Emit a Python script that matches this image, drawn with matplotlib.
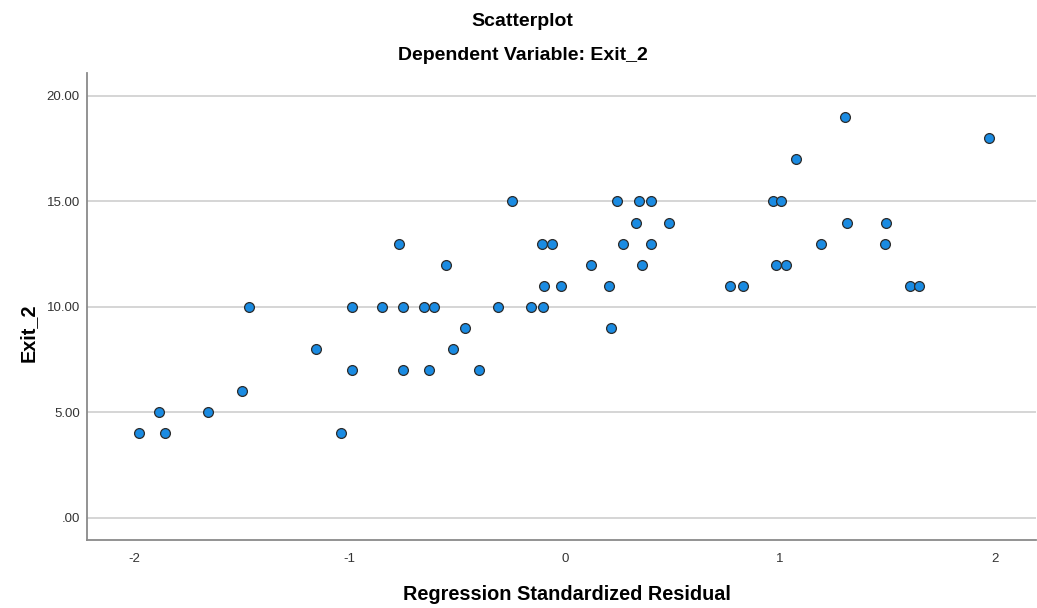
import matplotlib
matplotlib.use("Agg")
import matplotlib.pyplot as plt

# Regression standardized residual (x) and Exit_2 (y)
residual = [
    -1.978, -1.885, -1.859, -1.659, -1.501, -1.470, -1.157, -1.042, -0.991, -0.990,
    -0.850, -0.771, -0.754, -0.751, -0.654, -0.607, -0.632, -0.553, -0.519, -0.466,
    -0.398, -0.311, -0.248, -0.158, -0.104, -0.099, -0.019, -0.107, -0.060, 0.122,
    0.204, 0.215, 0.243, 0.271, 0.330, 0.344, 0.400, 0.358, 0.398, 0.485,
    0.767, 0.829, 0.965, 1.002, 0.979, 1.026, 1.075, 1.190, 1.300, 1.312,
    1.492, 1.487, 1.602, 1.646, 1.972,
]
exit_2 = [
    4, 5, 4, 5, 6, 10, 8, 4, 10, 7,
    10, 13, 10, 7, 10, 10, 7, 12, 8, 9,
    7, 10, 15, 10, 10, 11, 11, 13, 13, 12,
    11, 9, 15, 13, 14, 15, 15, 12, 13, 14,
    11, 11, 15, 15, 12, 12, 17, 13, 19, 14,
    14, 13, 11, 11, 18,
]

x_ticks = [-2, -1, 0, 1, 2]
x_tick_labels = ["-2", "-1", "0", "1", "2"]
y_ticks = [0, 5, 10, 15, 20]
y_tick_labels = [".00", "5.00", "10.00", "15.00", "20.00"]

plt.rcParams['font.family'] = ['Liberation Sans', 'DejaVu Sans']

W, H = 1037, 608
fig = plt.figure(figsize=(W / 100, H / 100), dpi=100)
ax = fig.add_axes([86.7 / W, 1 - 540 / H, (1036 - 86.7) / W, (540 - 72.7) / H])

ax.set_xlim(-2.2226, 2.189)
ax.set_ylim(-1.058, 21.105)

ax.set_yticks(y_ticks)
ax.set_yticklabels(y_tick_labels)
ax.set_xticks(x_ticks)
ax.set_xticklabels(x_tick_labels)

ax.grid(axis='y', color='#d2d2d2', linewidth=1.3)
ax.set_axisbelow(True)

ax.scatter(residual, exit_2, s=50, facecolor='#1a8be2', edgecolor='#2b2b2b',
           linewidth=0.9, zorder=3)

for side in ['top', 'right']:
    ax.spines[side].set_visible(False)
for side in ['left', 'bottom']:
    ax.spines[side].set_color('#8a8a8a')
    ax.spines[side].set_linewidth(1.3)

ax.tick_params(axis='y', length=0, pad=5, labelsize=9.5, labelcolor='#333333')
ax.tick_params(axis='x', length=0, pad=9, labelsize=9.5, labelcolor='#333333')

fig.text(522 / W, 1 - 26 / H, "Scatterplot", ha='center', va='baseline',
         fontsize=14, fontweight='bold')
fig.text(523 / W, 1 - 60 / H, "Dependent Variable: Exit_2", ha='center',
         va='baseline', fontsize=14, fontweight='bold')
fig.text(567 / W, 1 - 600.5 / H, "Regression Standardized Residual",
         ha='center', va='baseline', fontsize=14.3, fontweight='bold')
fig.text(28.5 / W, 1 - 303 / H, "Exit_2", ha='right', va='center',
         rotation=90, fontsize=14.3, fontweight='bold', rotation_mode='anchor')

fig.savefig("out.png", dpi=100)
